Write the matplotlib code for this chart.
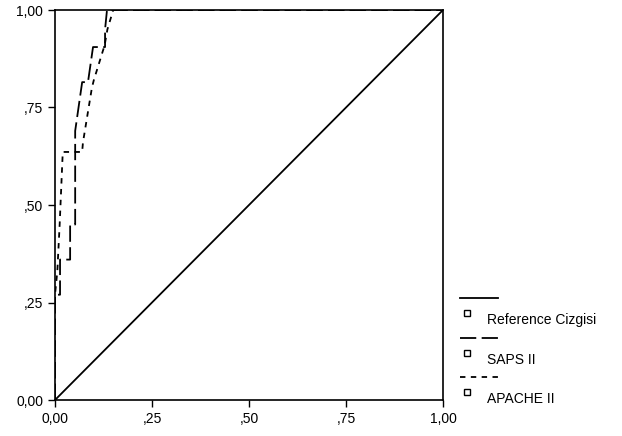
import matplotlib
matplotlib.use("Agg")
import matplotlib.pyplot as plt
from matplotlib.lines import Line2D

plt.rcParams['font.family'] = ['Liberation Sans', 'DejaVu Sans']

# ROC points
saps_x = [0, 0, 0.013, 0.013, 0.039, 0.039, 0.052, 0.052, 0.07, 0.085, 0.098, 0.129, 0.129, 0.134, 1]
saps_y = [0, 0.27, 0.27, 0.36, 0.36, 0.45, 0.45, 0.69, 0.815, 0.815, 0.905, 0.905, 0.95, 1.0, 1.0]
apache_x = [0, 0, 0.006, 0.012, 0.02, 0.07, 0.072, 0.095, 0.1, 0.128, 0.135, 0.15, 1]
apache_y = [0, 0.27, 0.33, 0.45, 0.636, 0.636, 0.66, 0.8, 0.82, 0.91, 0.95, 1.0, 1.0]
ref_x = [0, 1]
ref_y = [0, 1]

ticks = [0, 0.25, 0.5, 0.75, 1.0]
tick_labels = ["0,00", ",25", ",50", ",75", "1,00"]
legend_names = ["Reference Cizgisi", "SAPS II", "APACHE II"]

fig = plt.figure(figsize=(6.22, 4.36), dpi=100)
ax = fig.add_axes([55 / 622, 36 / 436, 388 / 622, 390 / 436])

ax.plot(ref_x, ref_y, color='black', lw=1.3)
ax.plot(saps_x, saps_y, color='black', lw=1.3, dashes=(9, 3))
ax.plot(apache_x, apache_y, color='black', lw=1.3, dashes=(3, 3))

ax.set_xlim(0, 1)
ax.set_ylim(0, 1)
ax.set_xticks(ticks)
ax.set_xticklabels(tick_labels)
ax.set_yticks(ticks)
ax.set_yticklabels(tick_labels)
ax.tick_params(direction='out', length=5, width=1, labelsize=10, colors='black')
for s in ax.spines.values():
    s.set_linewidth(1.2)

# legend drawn by hand, SPSS style (pixel coords inside a blank axes)
styles = [dict(), dict(dashes=(9, 3)), dict(dashes=(3, 3))]
lax = fig.add_axes([455 / 622, 0, 167 / 622, 1])
lax.set_xlim(0, 167)
lax.set_ylim(436, 0)
lax.axis('off')
for i, (name, st) in enumerate(zip(legend_names, styles)):
    yl = 298 + i * 39.5
    lax.add_line(Line2D([5, 43], [yl, yl], color='black', lw=1.3, **st))
    lax.plot([12], [yl + 15], marker='s', ms=4, mfc='white', mec='black', mew=1)
    lax.text(32, yl + 22, name, fontsize=10, va='center', ha='left')

fig.savefig("out.png", dpi=100)
